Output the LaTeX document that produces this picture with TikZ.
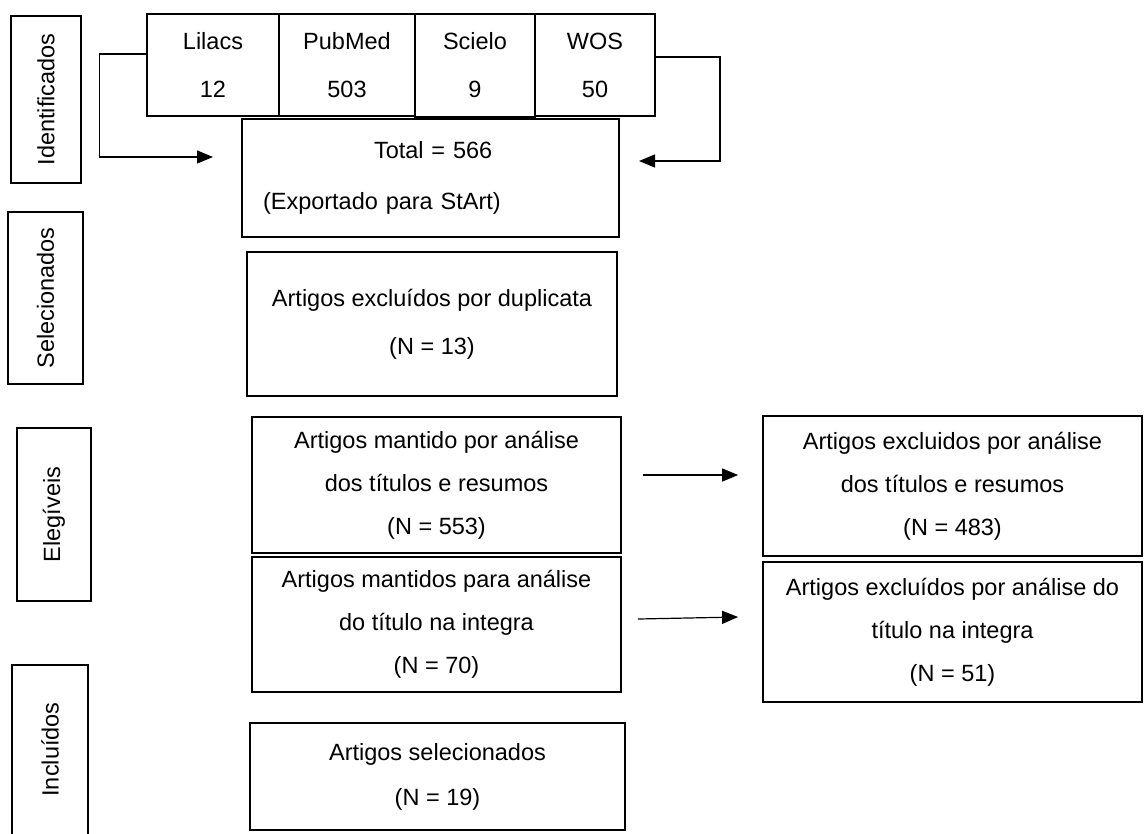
\documentclass[tikz,border=0pt]{standalone}
\usepackage{fontspec}
\setmainfont{Liberation Sans}
\usetikzlibrary{arrows.meta}

\begin{document}
\begin{tikzpicture}[x=1pt, y=-1pt, line width=1.8pt, font=\fontsize{23.5}{43}\selectfont,
    box/.style={draw, rectangle, align=center, inner sep=0pt},
    phase/.style={box, rotate=90},
    arr/.style={-{Triangle[length=16pt, width=13pt]}, line width=1.2pt}]
    \useasboundingbox (0,0) rectangle (1147,833);

    \node[phase, minimum width=167, minimum height=70] (ident) at (46,99.5) {Identificados};
    \node[phase, minimum width=172, minimum height=75] (selec) at (45.5,298) {Selecionados};
    \node[phase, minimum width=173, minimum height=74] (eleg) at (54,514.5) {Elegíveis};
    \node[rotate=90, minimum width=167, minimum height=74] (incl) at (50,749.5) {Incluídos};
    \draw (incl.north west) -- (incl.north east) -- (incl.south east) -- (incl.south west);

    \node[box, minimum width=132, minimum height=102] (lilacs) at (213,65) {Lilacs\\[5pt]12};
    \node[box, minimum width=136, minimum height=102] (pubmed) at (347,65) {PubMed\\[5pt]503};
    \node[box, minimum width=120, minimum height=103] (scielo) at (475,65.5) {Scielo\\[5pt]9};
    \node[box, minimum width=120, minimum height=102] (wos) at (595,65) {WOS\\[5pt]50};

    \node[box, minimum width=377, minimum height=118, text width=335, align=left, inner xsep=21] (total) at (430.5,178) {\hspace*{111pt}Total = 566\\[8pt](Exportado para StArt)};
    \node[box, minimum width=370, minimum height=144] (dup) at (432,324) {Artigos excluídos por duplicata\\[5pt](N = 13)};
    \node[box, minimum width=369, minimum height=136] (mant1) at (436.5,485) {Artigos mantido por análise\\dos títulos e resumos\\(N = 553)};
    \node[box, minimum width=369, minimum height=135] (mant2) at (436.5,624.5) {Artigos mantidos para análise\\do título na integra\\(N = 70)};
    \node[box, minimum width=375, minimum height=107] (sel) at (437.5,776.5) {Artigos selecionados\\[2pt](N = 19)};

    \node[box, minimum width=379, minimum height=140] (exc1) at (952.5,486) {Artigos excluidos por análise\\dos títulos e resumos\\(N = 483)};
    \node[box, minimum width=379, minimum height=140] (exc2) at (952.5,632) {Artigos excluídos por análise do\\título na integra\\(N = 51)};

    \coordinate (inL) at (213,157);
    \coordinate (inR) at (639,161);
    \draw[arr] ([yshift=11pt]lilacs.west) -- ++(-47,0) |- (inL);
    \draw[arr] ([yshift=8pt]wos.east) -- ++(64,0) |- (inR);

    \draw[arr] ([shift={(21pt,10pt)}]mant1.east) -- ([shift={(-24pt,11pt)}]exc1.west);
    \draw[arr] ([shift={(16pt,5.5pt)}]mant2.east) -- ([shift={(-24pt,15pt)}]exc2.west);
\end{tikzpicture}
\end{document}
